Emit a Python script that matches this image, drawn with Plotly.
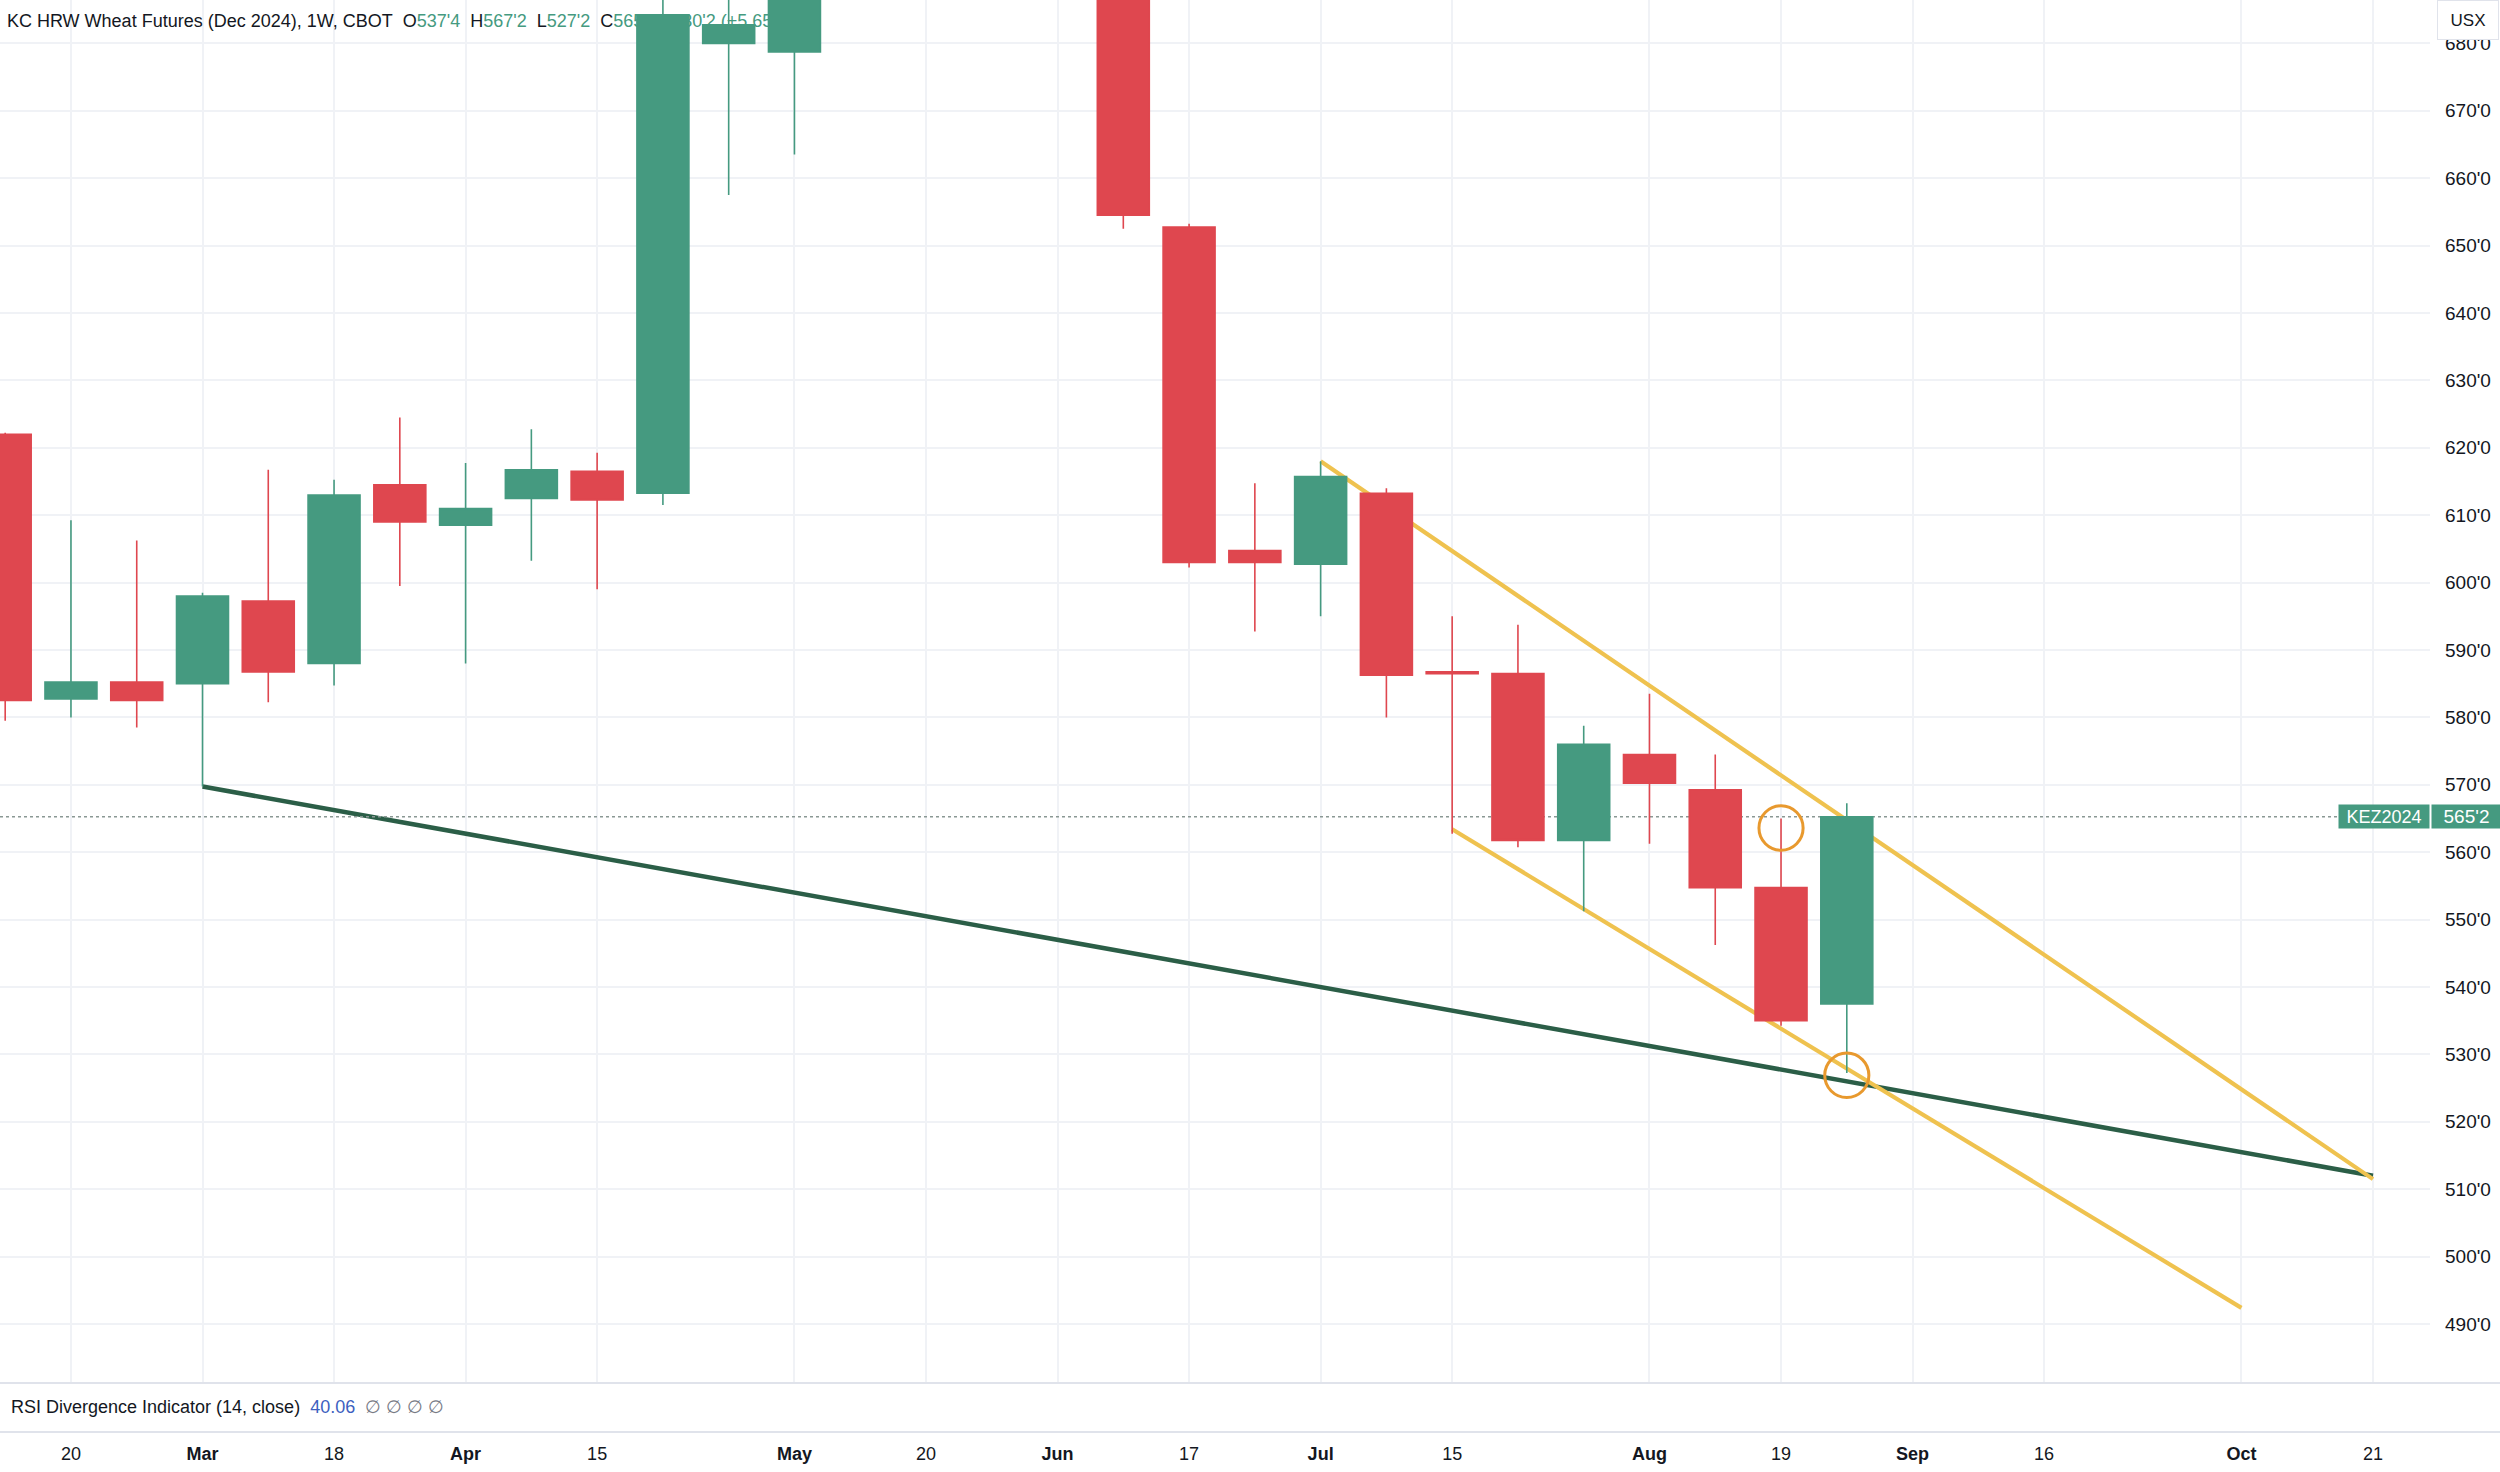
import plotly.graph_objects as go
import pandas as pd

# ---------------- data ----------------
week_dates = ["2024-02-12", "2024-02-19", "2024-02-26", "2024-03-04", "2024-03-11",
              "2024-03-18", "2024-03-25", "2024-04-01", "2024-04-08", "2024-04-15",
              "2024-04-22", "2024-04-29", "2024-05-06", "2024-05-13", "2024-05-20",
              "2024-05-27", "2024-06-03", "2024-06-10", "2024-06-17", "2024-06-24",
              "2024-07-01", "2024-07-08", "2024-07-15", "2024-07-22", "2024-07-29",
              "2024-08-05", "2024-08-12", "2024-08-19", "2024-08-26"]
opens = [622.0, 582.75, 585.25, 585.0, 597.25, 588.0, 614.5, 608.5, 612.5, 616.5,
         613.25, 680.0, 678.75, 697.0, 716.0, 737.0, 706.0, 695.0, 652.75, 604.75,
         602.75, 613.25, 586.75, 586.5, 561.75, 574.5, 569.25, 554.75, 537.5]
highs = [622.25, 609.25, 606.25, 598.5, 616.75, 615.25, 624.5, 617.75, 622.75, 619.25,
         690.0, 689.5, 700.0, 725.0, 744.0, 742.0, 712.0, 699.0, 653.25, 614.75,
         618.0, 614.0, 595.0, 593.75, 578.75, 583.5, 574.5, 565.0, 567.25]
lows = [579.5, 580.0, 578.5, 569.75, 582.25, 584.75, 599.5, 588.0, 603.25, 599.0,
        611.5, 657.5, 663.5, 690.0, 706.0, 700.0, 689.0, 652.5, 602.25, 592.75,
        595.0, 580.0, 562.75, 560.75, 551.25, 561.25, 546.25, 534.25, 527.25]
closes = [582.5, 585.25, 582.5, 598.0, 586.75, 613.0, 609.0, 611.0, 616.75, 612.25,
          684.25, 682.75, 697.0, 717.0, 738.0, 708.0, 697.0, 654.5, 603.0, 603.0,
          615.75, 586.25, 586.5, 561.75, 576.0, 570.25, 554.75, 535.0, 565.25]

tick_dates = ["2024-02-19", "2024-03-04", "2024-03-18", "2024-04-01", "2024-04-15",
              "2024-05-06", "2024-05-20", "2024-06-03", "2024-06-17", "2024-07-01",
              "2024-07-15", "2024-08-05", "2024-08-19", "2024-09-02", "2024-09-16",
              "2024-10-07", "2024-10-21"]
tick_labels = ["20", "Mar", "18", "Apr", "15", "May", "20", "Jun", "17", "Jul",
               "15", "Aug", "19", "Sep", "16", "Oct", "21"]
month_labels = {"Mar", "Apr", "May", "Jun", "Jul", "Aug", "Sep", "Oct"}

price_ticks = [490, 500, 510, 520, 530, 540, 550, 560, 570, 580,
               590, 600, 610, 620, 630, 640, 650, 660, 670, 680]

support_dates = ["2024-03-04", "2024-10-21"]
support_prices = [569.75, 512.0]
channel_top_dates = ["2024-07-01", "2024-10-21"]
channel_top_prices = [618.0, 511.5]
channel_bottom_dates = ["2024-07-15", "2024-10-07"]
channel_bottom_prices = [563.4, 492.4]
marker_dates = ["2024-08-19", "2024-08-26"]
marker_prices = [563.6, 526.9]

symbol = "KEZ2024"
title = "KC HRW Wheat Futures (Dec 2024), 1W, CBOT"
rsi_name = "RSI Divergence Indicator (14, close)"
rsi_value = "40.06"

# ---------------- styles ----------------
FONT = "Liberation Sans, Arial, sans-serif"
UP = "#459A80"
DOWN = "#DF474F"
TEXT = "#131722"
GRID = "#f0f2f6"
X_START = "2024-02-11 10:45"
X_END = "2024-10-27 01:40"
Y_RANGE = [481.25, 686.44]
MAIN_BOTTOM = 1 - 1383 / 1472
RSI_BOTTOM = 1 - 1432 / 1472
X_DOMAIN_END = 2430 / 2500


def fmt(p):
    whole = int(p)
    eighths = int(round((p - whole) * 8))
    return f"{whole}'{eighths}"


last_o, last_h, last_l, last_c = opens[-1], highs[-1], lows[-1], closes[-1]
chg = last_c - closes[-2]
pct = chg / closes[-2] * 100
nb = "\u00a0"


def g(s):
    return f"<span style='color:{UP}'>{s}</span>"


header = (title + nb * 2 + "O" + g(fmt(last_o)) + nb * 2 + "H" + g(fmt(last_h)) + nb * 2
          + "L" + g(fmt(last_l)) + nb * 2 + "C" + g(fmt(last_c)) + nb * 3
          + g(f"+{fmt(chg)} (+{pct:.2f}%)"))

fig = go.Figure()

# base layer (drawn below candles)
fig.add_trace(go.Scatter(x=support_dates, y=support_prices, mode="lines",
                         line=dict(color="#2B5E47", width=4.5),
                         xaxis="x", yaxis="y", hoverinfo="skip", showlegend=False))
fig.add_trace(go.Scatter(x=channel_top_dates, y=channel_top_prices, mode="lines",
                         line=dict(color="#EFC24F", width=4.2),
                         xaxis="x", yaxis="y", hoverinfo="skip", showlegend=False))
fig.add_trace(go.Scatter(x=channel_bottom_dates, y=channel_bottom_prices, mode="lines",
                         line=dict(color="#EFC24F", width=4.2),
                         xaxis="x", yaxis="y", hoverinfo="skip", showlegend=False))
fig.add_trace(go.Scatter(x=[X_START, X_END], y=[last_c, last_c], mode="lines",
                         line=dict(color="#8a9894", width=1.5, dash="dot"),
                         xaxis="x", yaxis="y", hoverinfo="skip", showlegend=False))
fig.add_trace(go.Scatter(x=["2024-02-12 04:30"], y=[683.1], mode="text", text=[header],
                         textposition="middle right",
                         textfont=dict(family=FONT, size=18, color=TEXT),
                         xaxis="x", yaxis="y", hoverinfo="skip", showlegend=False,
                         cliponaxis=False))

# candles on an overlay axis so they sit above the header & lines
fig.add_trace(go.Candlestick(
    x=week_dates, open=opens, high=highs, low=lows, close=closes,
    xaxis="x", yaxis="y3", whiskerwidth=0,
    increasing=dict(line=dict(color=UP, width=1.6), fillcolor=UP),
    decreasing=dict(line=dict(color=DOWN, width=1.6), fillcolor=DOWN),
    hoverinfo="skip", showlegend=False))

shapes = [
    dict(type="line", xref="paper", yref="paper", x0=0, x1=1, y0=MAIN_BOTTOM, y1=MAIN_BOTTOM,
         line=dict(color="#e0e3eb", width=2)),
    dict(type="line", xref="paper", yref="paper", x0=0, x1=1, y0=RSI_BOTTOM, y1=RSI_BOTTOM,
         line=dict(color="#e0e3eb", width=2)),
]
rx = pd.Timedelta(days=2.35)
ry = 3.3
for d, p in zip(marker_dates, marker_prices):
    c = pd.Timestamp(d)
    shapes.append(dict(type="circle", xref="x", yref="y",
                       x0=str(c - rx), x1=str(c + rx), y0=p - ry, y1=p + ry,
                       line=dict(color="#E8992E", width=3), layer="above"))

annotations = [
    dict(text=symbol, xref="paper", yref="y", x=2337.5 / 2500, y=last_c,
         xanchor="left", yanchor="middle", showarrow=False, bgcolor=UP,
         font=dict(family=FONT, size=18, color="white"), width=90, height=23,
         borderpad=0, align="center"),
    dict(text=fmt(last_c), xref="paper", yref="y", x=2431 / 2500, y=last_c,
         xanchor="left", yanchor="middle", showarrow=False, bgcolor=UP,
         font=dict(family=FONT, size=19, color="white"), width=69, height=23,
         borderpad=0, align="center"),
    dict(text="USX", xref="paper", yref="paper", x=2468 / 2500, y=1 - 20 / 1472,
         xanchor="center", yanchor="middle", showarrow=False, bgcolor="white",
         bordercolor="#e0e3eb", borderwidth=1, borderpad=4, width=52, height=30,
         font=dict(family=FONT, size=17, color=TEXT)),
    dict(text=(rsi_name + nb * 2 + f"<span style='color:#3d5fc0'>{rsi_value}</span>" + nb * 2
               + "<span style='color:#787b86'>∅ ∅ ∅ ∅</span>"),
         xref="paper", yref="paper", x=9 / 2500, y=1 - 1407 / 1472,
         xanchor="left", yanchor="middle", showarrow=False,
         font=dict(family=FONT, size=18, color=TEXT)),
]

fig.update_layout(
    width=2500, height=1472,
    margin=dict(l=0, r=0, t=0, b=0, pad=0),
    paper_bgcolor="white", plot_bgcolor="white",
    showlegend=False, boxgap=0.21, boxgroupgap=0,
    xaxis=dict(type="date", domain=[0, X_DOMAIN_END], range=[X_START, X_END],
               anchor="free", position=RSI_BOTTOM,
               tickvals=tick_dates,
               ticktext=[f"<b>{t}</b>" if t in month_labels else t for t in tick_labels],
               showgrid=True, gridcolor=GRID, gridwidth=1.5, ticks="", showline=False,
               zeroline=False, ticklabelstandoff=9,
               tickfont=dict(family=FONT, size=18, color=TEXT),
               rangeslider=dict(visible=False), fixedrange=True),
    yaxis=dict(domain=[MAIN_BOTTOM, 1], range=Y_RANGE, side="right", anchor="x",
               tickvals=price_ticks, ticktext=[f"{p}'0" for p in price_ticks],
               showgrid=True, gridcolor=GRID, gridwidth=1.5, zeroline=False, ticks="",
               showline=False, ticklabelstandoff=14,
               tickfont=dict(family=FONT, size=19, color=TEXT), fixedrange=True),
    yaxis3=dict(overlaying="y", range=Y_RANGE, side="right", anchor="x", visible=False,
                fixedrange=True),
    shapes=shapes,
    annotations=annotations,
)

fig.write_html("out.html", config={"displayModeBar": False},
               post_script="document.body.style.margin='0px';document.body.style.overflow='hidden';")
